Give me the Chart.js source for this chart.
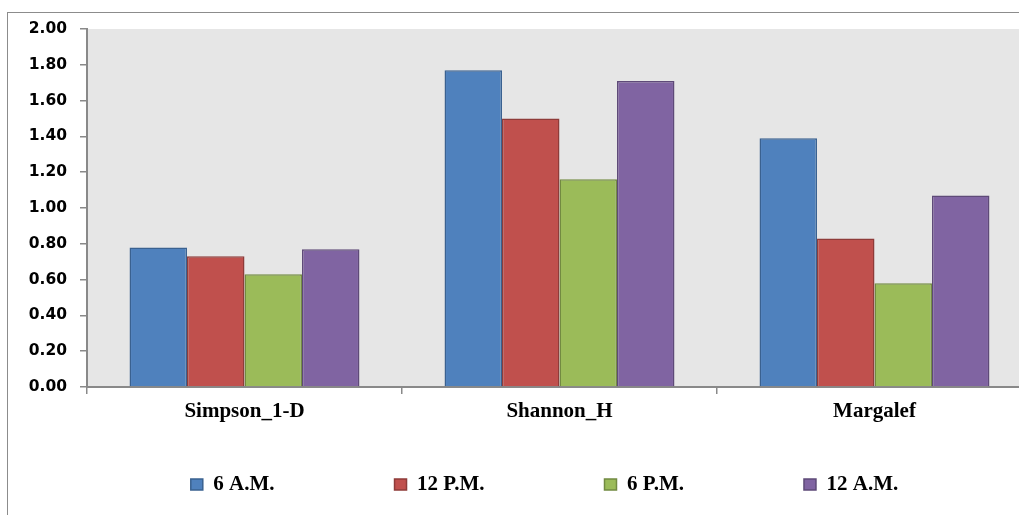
<!DOCTYPE html>
<html>
<head>
<meta charset="utf-8">
<script src="https://cdn.jsdelivr.net/npm/chart.js@4.4.0/dist/chart.umd.min.js"></script>
<style>
html, body { margin: 0; padding: 0; background: #fff; overflow: hidden; }
#wrap { position: relative; width: 1019px; height: 515px; overflow: hidden; }
#frame { position: absolute; left: 7px; top: 12px; width: 1100px; height: 600px; border: 1.5px solid #8c8c8c; }
#box { position: absolute; left: 0; top: 0; width: 1090px; height: 515px; }
</style>
</head>
<body>
<div id="wrap">
  <div id="frame"></div>
  <div id="box"><canvas id="chart"></canvas></div>
</div>
<script>
// values
var categories = ['Simpson_1-D', 'Shannon_H', 'Margalef'];
var seriesNames = ['6 A.M.', '12 P.M.', '6 P.M.', '12 A.M.'];
var am6  = [0.78, 1.77, 1.39];
var pm12 = [0.73, 1.50, 0.83];
var pm6  = [0.63, 1.16, 0.58];
var am12 = [0.77, 1.71, 1.07];
var yTicks = [0, 0.2, 0.4, 0.6, 0.8, 1.0, 1.2, 1.4, 1.6, 1.8, 2.0];

var fills   = ['#4f81bd', '#c0504d', '#9bbb59', '#8064a2'];
var borders = ['#3a6190', '#8e3b39', '#728a41', '#5e4a78'];
var AXIS = '#898989';

var plotBg = {
    id: 'plotBg',
    beforeDraw: function(chart) {
        var a = chart.chartArea;
        var ctx = chart.ctx;
        ctx.save();
        ctx.fillStyle = '#e6e6e6';
        ctx.fillRect(a.left, a.top, a.right - a.left, a.bottom - a.top);
        ctx.restore();
    }
};

// the legend sits low and wide like the Excel one
var legendSpot = {
    id: 'legendSpot',
    afterLayout: function(chart) {
        var lg = chart.legend;
        if (!lg) return;
        var pad = lg.options.labels.padding;
        lg.top = 474 - pad;
        lg.bottom = chart.height;
        lg.left = 7;
        lg.right = 1082;
    }
};

var allValues = [am6, pm12, pm6, am12];
var datasets = [];
for (var i = 0; i < seriesNames.length; i++) {
    datasets.push({
        label: seriesNames[i],
        data: allValues[i],
        backgroundColor: fills[i],
        borderColor: borders[i],
        borderWidth: 1.5,
        categoryPercentage: 0.73,
        barPercentage: 1.0
    });
}

var ctx = document.getElementById('chart').getContext('2d');
var chart = new Chart(ctx, {
    type: 'bar',
    data: {
        labels: categories,
        datasets: datasets
    },
    options: {
        responsive: true,
        maintainAspectRatio: false,
        animation: false,
        layout: {
            padding: { left: 7, top: 29, right: 58, bottom: 0 }
        },
        scales: {
            x: {
                grid: { display: true, drawOnChartArea: false, drawTicks: true, tickLength: 7, color: AXIS, lineWidth: 1.5, offset: true },
                border: { display: true, color: AXIS, width: 2 },
                ticks: {
                    color: '#000',
                    padding: 5,
                    maxRotation: 0,
                    font: { family: 'Liberation Serif', size: 21, weight: 'bold' }
                },
                afterFit: function(scale) { scale.height = 88; }
            },
            y: {
                min: 0,
                max: 2,
                grid: { drawOnChartArea: false, drawTicks: true, tickLength: 7, color: AXIS, lineWidth: 1.5 },
                border: { display: true, color: AXIS, width: 2 },
                ticks: {
                    color: '#000',
                    padding: 13,
                    font: { family: 'DejaVu Sans', size: 15.5, weight: 'bold' },
                    callback: function(v) { return Number(v).toFixed(2); }
                },
                afterBuildTicks: function(scale) {
                    scale.ticks = yTicks.map(function(v) { return { value: v }; });
                },
                afterFit: function(scale) { scale.width = 80; }
            }
        },
        plugins: {
            legend: {
                position: 'bottom',
                maxHeight: 40,
                labels: {
                    boxWidth: 12,
                    boxHeight: 11,
                    padding: 120,
                    color: '#000',
                    font: { family: 'Liberation Serif', size: 21, weight: 'bold' }
                }
            },
            tooltip: { enabled: false }
        }
    },
    plugins: [plotBg, legendSpot]
});
</script>
</body>
</html>
